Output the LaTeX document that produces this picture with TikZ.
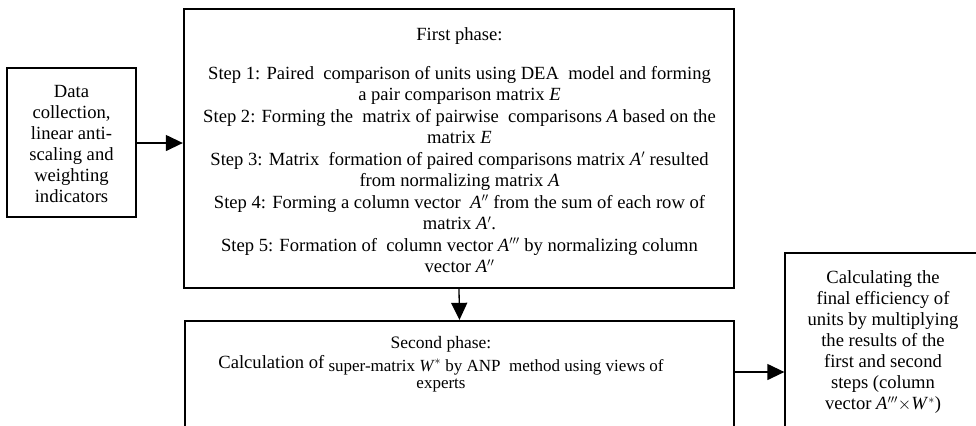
\documentclass[tikz,border=0pt]{standalone}
\usepackage{fontspec}
\setmainfont{Liberation Serif}
\usetikzlibrary{arrows.meta}
\newcommand{\iA}{\textit{A}}
\newcommand{\iW}{\textit{W}}
\begin{document}
\begin{tikzpicture}[x=1bp,y=-1bp,
  box/.style={draw, line width=1.3bp, inner sep=0pt},
  phase/.style={draw, line width=2.3bp, inner sep=0pt},
  txt/.style={align=center, inner sep=0pt, font=\fontsize{18.6bp}{21.5bp}\selectfont},
  conn/.style={line width=1.3bp, -{Triangle[length=17bp,width=16bp]}}]
\useasboundingbox (0,0) rectangle (976,425);
\clip (0,0) rectangle (976,425);
% boxes
\node[box, minimum width=129bp, minimum height=149bp] (data) at (71.5,142.5) {};
\node[phase, minimum width=550bp, minimum height=279bp] (p1) at (459,148.5) {};
\node[phase, minimum width=549bp, minimum height=200bp] (p2) at (459.5,421) {};
\node[box, minimum width=230bp, minimum height=238bp] (fin) at (900,372) {};
% texts
\node[txt, font=\fontsize{18.6bp}{21bp}\selectfont] (datat) at (71.5,144) {Data\\collection,\\linear anti-\\scaling and\\weighting\\indicators};
\node[txt] (p1t) at (459.5,150) {First phase:\\[17.5bp]
Step 1: Paired\ \ comparison of units using DEA\ \ model and forming\\
a pair comparison matrix \textit{E}\\
Step 2: Forming the\ \ matrix of pairwise\ \ comparisons \iA{} based on the\\
matrix \textit{E}\\
Step 3: Matrix\ \ formation of paired comparisons matrix \iA$'$ resulted\\
from normalizing matrix \iA\\
Step 4: Forming a column vector\ \ \iA$''$ from the sum of each row of\\
matrix \iA$'$.\\
Step 5: Formation of\ \ column vector \iA$'''$ by normalizing column\\
vector \iA$''$};
\node[txt, font=\fontsize{17bp}{19bp}\selectfont] (p2t) at (441,364) {{\fontsize{17.5bp}{19bp}\selectfont Second phase:}\\[2bp]
\raisebox{3bp}{\fontsize{18.6bp}{19bp}\selectfont Calculation of} super-matrix \iW$^{*}$ by ANP\ \ method using views of\\[-2bp]
experts};
\node[txt, font=\fontsize{18.6bp}{21bp}\selectfont] (fint) at (883,342) {Calculating the\\final efficiency of\\units by multiplying\\the results of the\\first and second\\steps (column\\vector \iA$'''${}$\times$\iW$^{*}$)};
% connectors
\draw[conn] (data.east |- 0,143) -- (p1.west |- 0,143);
\draw[conn] (p1.south) -- (p2.north);
\draw[conn] (p2.east |- fin.west) -- (fin.west);
\end{tikzpicture}
\end{document}
